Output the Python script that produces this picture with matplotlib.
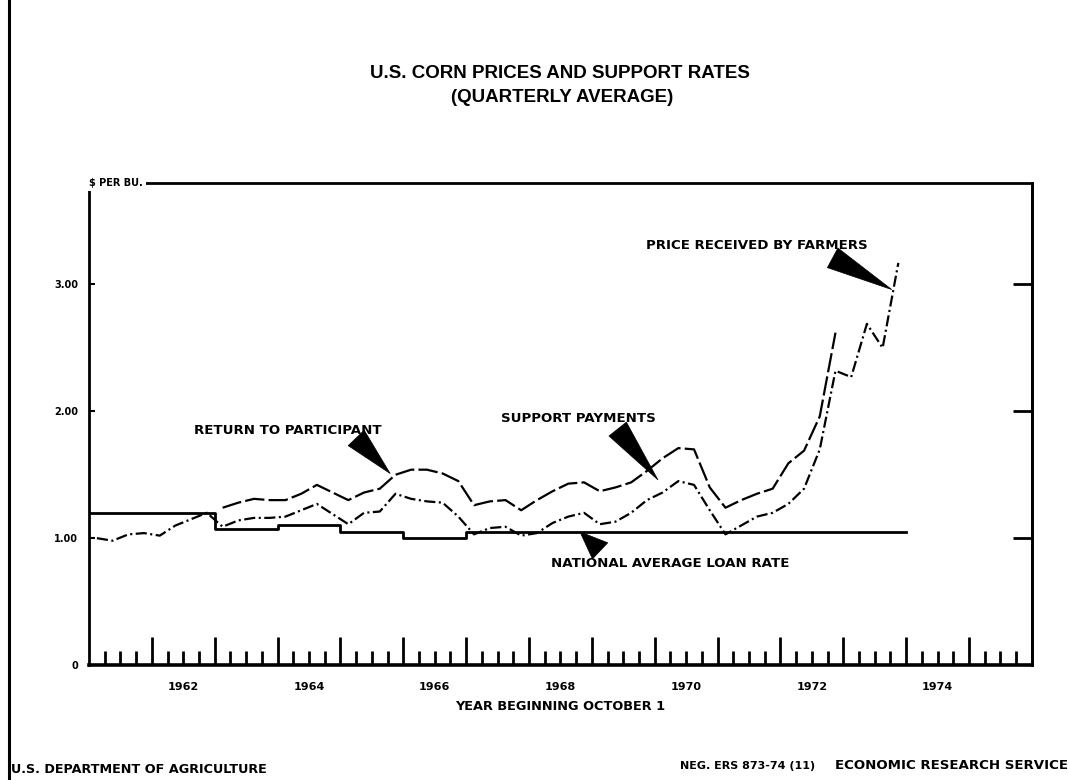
import matplotlib
matplotlib.use("Agg")
import matplotlib.pyplot as plt
from matplotlib.lines import Line2D

plt.rcParams['lines.scale_dashes'] = False
plt.rcParams['font.family'] = ['DejaVu Sans']
plt.rcParams['font.weight'] = 'bold'

# quarterly averages, crop years beginning Oct 1, first quarter = Oct-Dec 1961
first_year = 1961
price = [1.00, 0.98, 1.03, 1.04, 1.02, 1.10, 1.15, 1.20,
         1.09, 1.14, 1.16, 1.16, 1.17, 1.22, 1.27, 1.19,
         1.11, 1.20, 1.21, 1.35, 1.31, 1.29, 1.28, 1.17,
         1.03, 1.08, 1.09, 1.02, 1.04, 1.12, 1.17, 1.20,
         1.11, 1.13, 1.20, 1.30, 1.36, 1.45, 1.42, 1.22,
         1.03, 1.10, 1.17, 1.20, 1.27, 1.39, 1.70, 2.32,
         2.27, 2.69, 2.50, 3.17]
# return to participant starts with the 1963 crop year (quarter index 8)
ret_start = 8
ret = [1.24, 1.28, 1.31, 1.30, 1.30, 1.35, 1.42, 1.36,
       1.30, 1.36, 1.39, 1.50, 1.54, 1.54, 1.51, 1.45,
       1.26, 1.29, 1.30, 1.22, 1.30, 1.37, 1.43, 1.44,
       1.37, 1.40, 1.44, 1.53, 1.63, 1.71, 1.70, 1.40,
       1.24, 1.30, 1.35, 1.39, 1.59, 1.69, 1.96, 2.62]
loan_years = [1961, 1962, 1963, 1964, 1965, 1966, 1967, 1968, 1969, 1970, 1971, 1972, 1973]
loan_rate = [1.20, 1.20, 1.07, 1.10, 1.05, 1.00, 1.05, 1.05, 1.05, 1.05, 1.05, 1.05, 1.05]
label_years = [1962, 1964, 1966, 1968, 1970, 1972, 1974]

px = [first_year + 0.125 + 0.25 * i for i in range(len(price))]
rx = [first_year + 0.125 + 0.25 * (i + ret_start) for i in range(len(ret))]

fig = plt.figure(figsize=(10.69, 7.80), dpi=100)
ax = fig.add_axes([0.0833, 0.1474, 0.882, 0.618])

ax.plot(px, price, color='black', lw=1.6, dashes=(8, 2.5, 1.5, 2.5))
ax.plot(rx, ret, color='black', lw=1.6, dashes=(14, 3))
ax.step(loan_years + [loan_years[-1] + 1], loan_rate + [loan_rate[-1]],
        where='post', color='black', lw=2.0)

ax.set_xlim(1961, 1976)
ax.set_ylim(0, 3.8)

for s in ax.spines.values():
    s.set_linewidth(2.0)
ax.spines['bottom'].set_linewidth(2.6)

# x ticks: long at year starts, short at quarters
ax.set_xticks(range(1962, 1976))
ax.set_xticks([y + q for y in range(1961, 1976) for q in (0.25, 0.5, 0.75)], minor=True)
ax.tick_params(axis='x', which='major', direction='in', length=20, width=2, labelbottom=False)
ax.tick_params(axis='x', which='minor', direction='in', length=10, width=2)
for y in label_years:
    ax.text(y + 0.5, -0.045, str(y), transform=ax.get_xaxis_transform(),
            ha='center', va='center', fontsize=8, fontweight='bold')

ax.set_yticks([0, 1, 2, 3])
ax.set_yticklabels(['0', '1.00', '2.00', '3.00'], fontsize=7, fontweight='bold')
ax.tick_params(axis='y', direction='in', length=4, width=1.5, pad=8)
ax.yaxis.get_major_ticks()[0].tick1line.set_visible(False)
sec = ax.secondary_yaxis('right')
sec.set_yticks([1, 2, 3])
sec.tick_params(direction='in', length=14, width=2, labelright=False)
sec.spines['right'].set_linewidth(2.0)

ax.text(0.0, 1.0, '$ PER BU.', transform=ax.transAxes, ha='left', va='center',
        fontsize=7, fontweight='bold',
        bbox=dict(facecolor='white', edgecolor='none', pad=2))

# labels with wedge pointers
def pointer(base, tip):
    ax.annotate('', xy=tip, xytext=base,
                arrowprops=dict(arrowstyle='wedge,tail_width=1.6,shrink_factor=0.5',
                                fc='black', ec='black', lw=0.5,
                                shrinkA=0, shrinkB=0, mutation_scale=10))

lab = 9.6
ax.text(1964.16, 1.85, 'RETURN TO PARTICIPANT', ha='center', va='center', fontsize=lab)
pointer((1965.25, 1.79), (1965.79, 1.51))
ax.text(1968.78, 1.945, 'SUPPORT PAYMENTS', ha='center', va='center', fontsize=lab)
pointer((1969.41, 1.86), (1970.05, 1.46))
ax.text(1970.24, 0.80, 'NATIONAL AVERAGE LOAN RATE', ha='center', va='center', fontsize=lab)
pointer((1969.13, 0.90), (1968.81, 1.05))
ax.text(1971.62, 3.31, 'PRICE RECEIVED BY FARMERS', ha='center', va='center', fontsize=lab)
pointer((1972.83, 3.21), (1973.77, 2.96))

ax.text(0.5, -0.085, 'YEAR BEGINNING OCTOBER 1', transform=ax.transAxes,
        ha='center', va='center', fontsize=9.3, fontweight='bold')

title_font = ['Liberation Sans', 'DejaVu Sans']
fig.text(0.524, 0.906, 'U.S. CORN PRICES AND SUPPORT RATES', ha='center', va='center',
         fontsize=13.5, fontweight='bold', family=title_font)
fig.text(0.526, 0.875, '(QUARTERLY AVERAGE)', ha='center', va='center',
         fontsize=13.5, fontweight='bold', family=title_font)

fig.text(0.010, 0.013, 'U.S. DEPARTMENT OF AGRICULTURE', ha='left', va='center',
         fontsize=9.2, fontweight='bold')
fig.text(0.636, 0.018, 'NEG. ERS 873-74 (11)', ha='left', va='center',
         fontsize=8, fontweight='bold')
fig.text(0.999, 0.018, 'ECONOMIC RESEARCH SERVICE', ha='right', va='center',
         fontsize=9.6, fontweight='bold')

fig.add_artist(Line2D([0.0084, 0.0084], [0, 1], transform=fig.transFigure,
                      color='black', lw=2.2))

fig.savefig('out.png', dpi=100)
